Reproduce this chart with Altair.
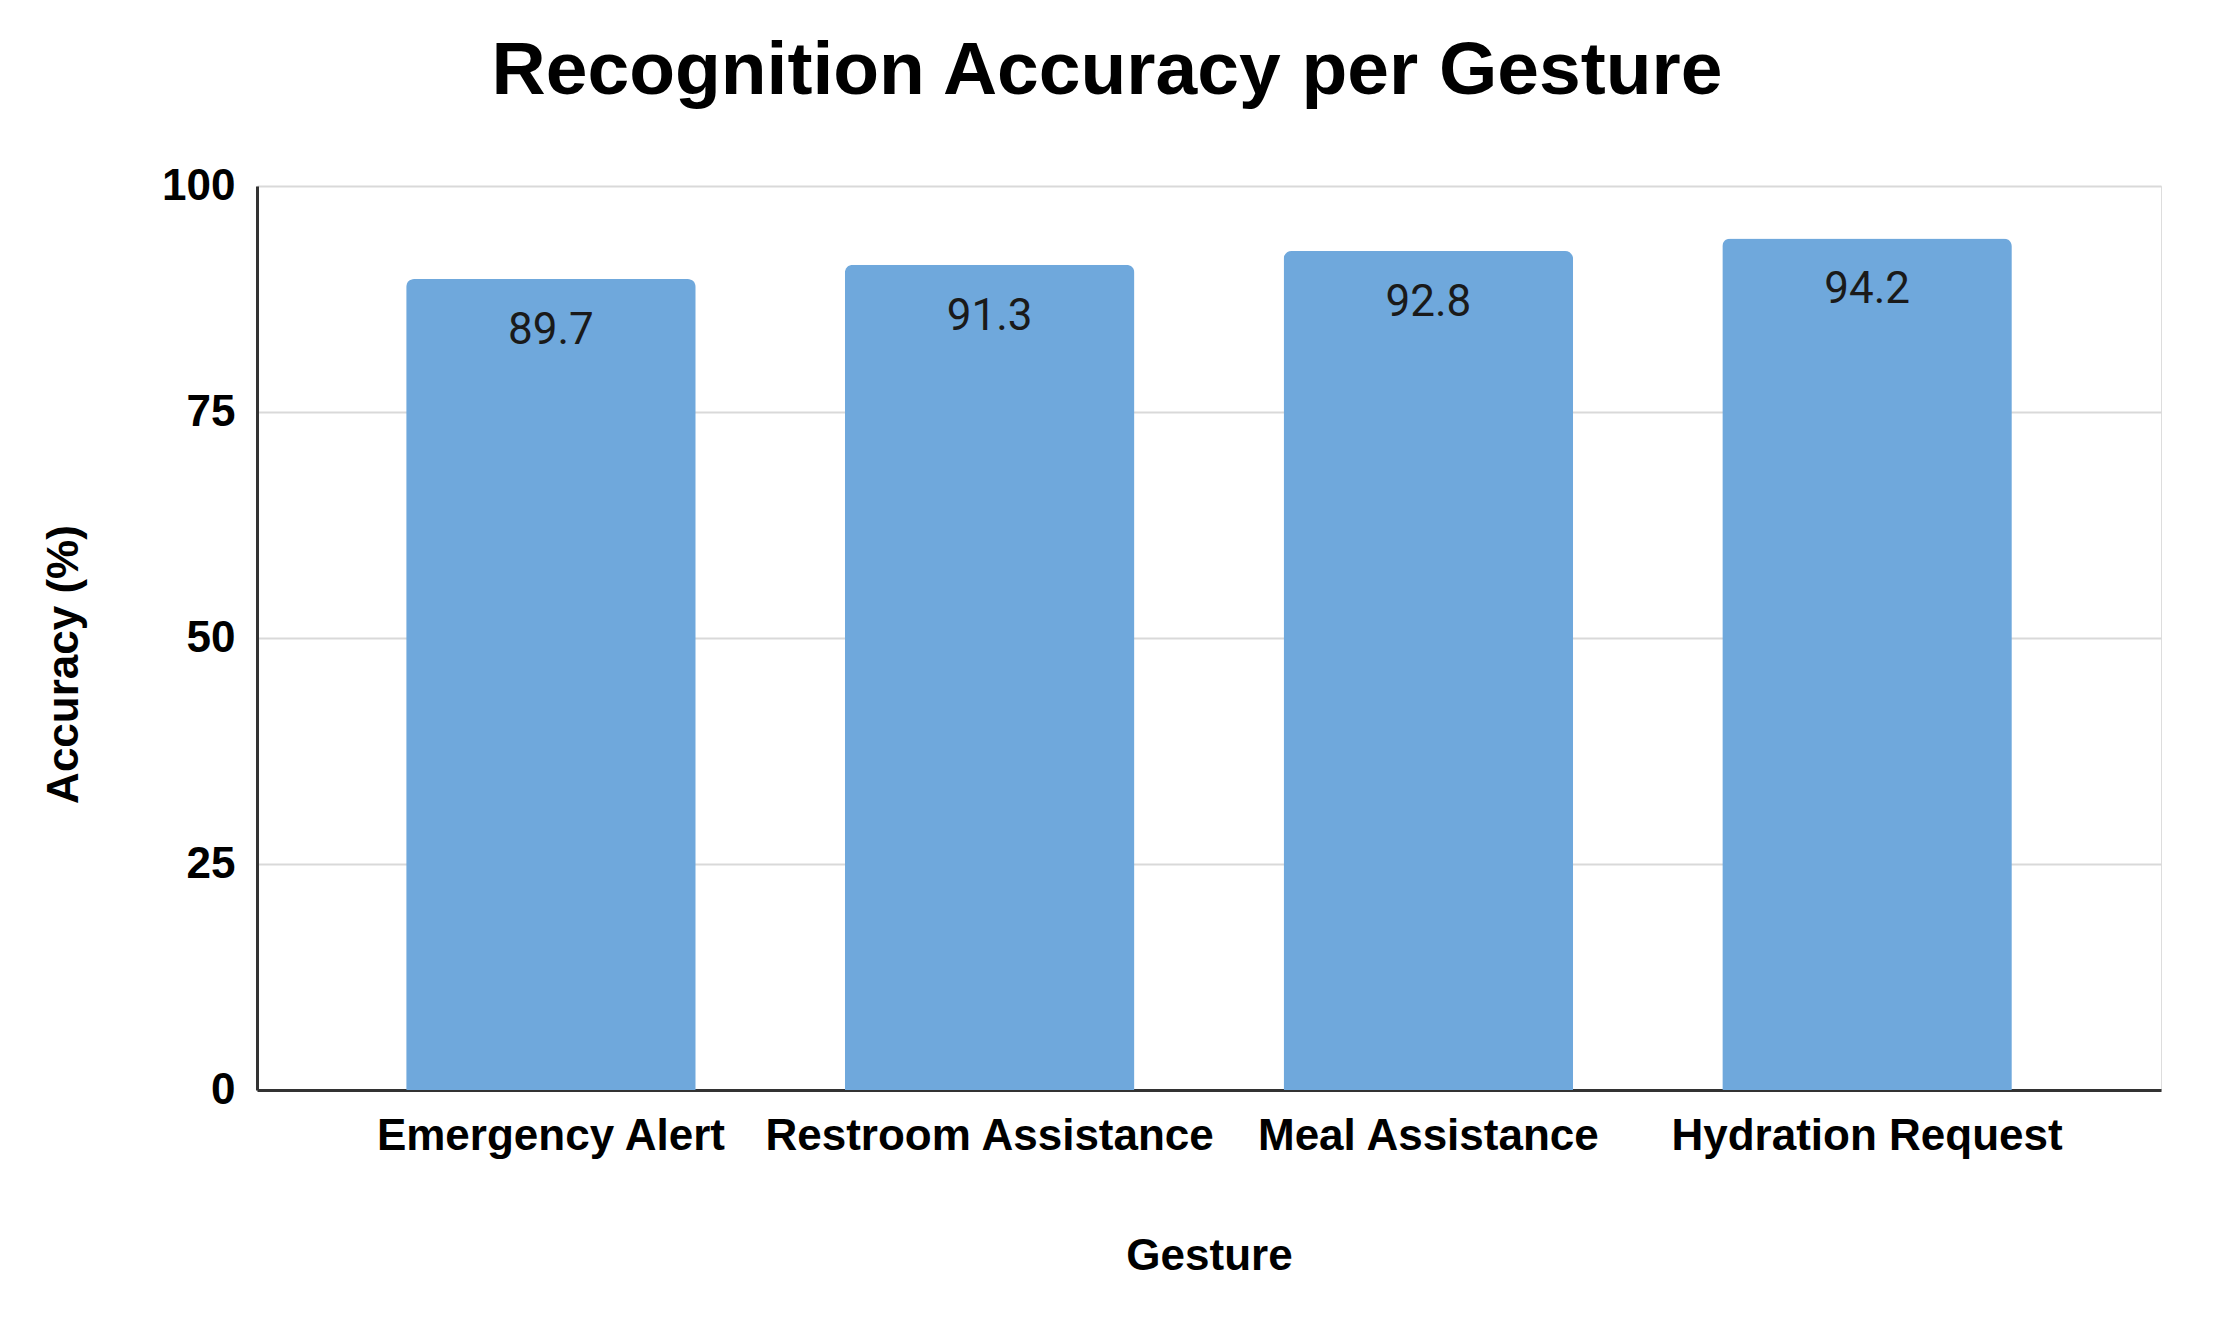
import altair as alt
import pandas as pd

gestures = ["Emergency Alert", "Restroom Assistance", "Meal Assistance", "Hydration Request"]
accuracy = [89.7, 91.3, 92.8, 94.2]
y_ticks = [0, 25, 50, 75, 100]

df = pd.DataFrame({"Gesture": gestures, "Accuracy": accuracy})

W, H = 1904, 904

x_enc = alt.X(
    "Gesture:N",
    sort=gestures,
    scale=alt.Scale(paddingInner=0.34, paddingOuter=0.34),
    axis=alt.Axis(
        title="Gesture",
        labelAngle=0,
        labelFont="Liberation Sans",
        labelFontSize=44,
        labelFontWeight="bold",
        labelColor="#000000",
        labelLimit=0,
        labelPadding=24,
        ticks=False,
        domainColor="#333333",
        domainWidth=3,
        titleFont="Liberation Sans",
        titleFontSize=44,
        titleFontWeight="bold",
        titleColor="#000000",
        titleX=W / 2,
        titleY=166,
        titleBaseline="middle",
    ),
)

y_enc = alt.Y(
    "Accuracy:Q",
    scale=alt.Scale(domain=[0, 100], nice=False),
    axis=alt.Axis(
        title="Accuracy (%)",
        values=y_ticks,
        labelFont="Liberation Sans",
        labelFontSize=44,
        labelFontWeight="bold",
        labelColor="#000000",
        labelPadding=22,
        ticks=False,
        domainColor="#333333",
        domainWidth=3,
        gridColor="#d9d9d9",
        gridWidth=2,
        titleFont="Liberation Sans",
        titleFontSize=44,
        titleFontWeight="bold",
        titleColor="#000000",
        titleAngle=-90,
        titleX=-193,
        titleY=478,
        titleBaseline="middle",
        titleAlign="center",
    ),
)

bars = alt.Chart(df).mark_bar(
    color="#6fa8dc",
    cornerRadiusTopLeft=8,
    cornerRadiusTopRight=8,
).encode(x=x_enc, y=y_enc)

labels = alt.Chart(df).mark_text(
    font="Roboto",
    fontSize=44,
    color="#1a1a1a",
    baseline="top",
    dy=30,
).encode(
    x=alt.X("Gesture:N", sort=gestures),
    y=alt.Y("Accuracy:Q"),
    text=alt.Text("Accuracy:Q", format=".1f"),
)

chart = (
    alt.layer(bars, labels)
    .properties(
        width=W,
        height=H,
        title=alt.TitleParams(
            text="Recognition Accuracy per Gesture",
            font="Liberation Sans",
            fontSize=75,
            fontWeight="bold",
            color="#000000",
            anchor="middle",
            dx=-102,
            offset=54,
        ),
        autosize=alt.AutoSizeParams(type="none"),
        padding={"left": 249, "top": 178, "right": 46, "bottom": 226},
    )
    .configure_view(stroke=None)
    .configure(background="#ffffff")
)

chart.save("out.html", embed_options={"renderer": "svg", "actions": False})
